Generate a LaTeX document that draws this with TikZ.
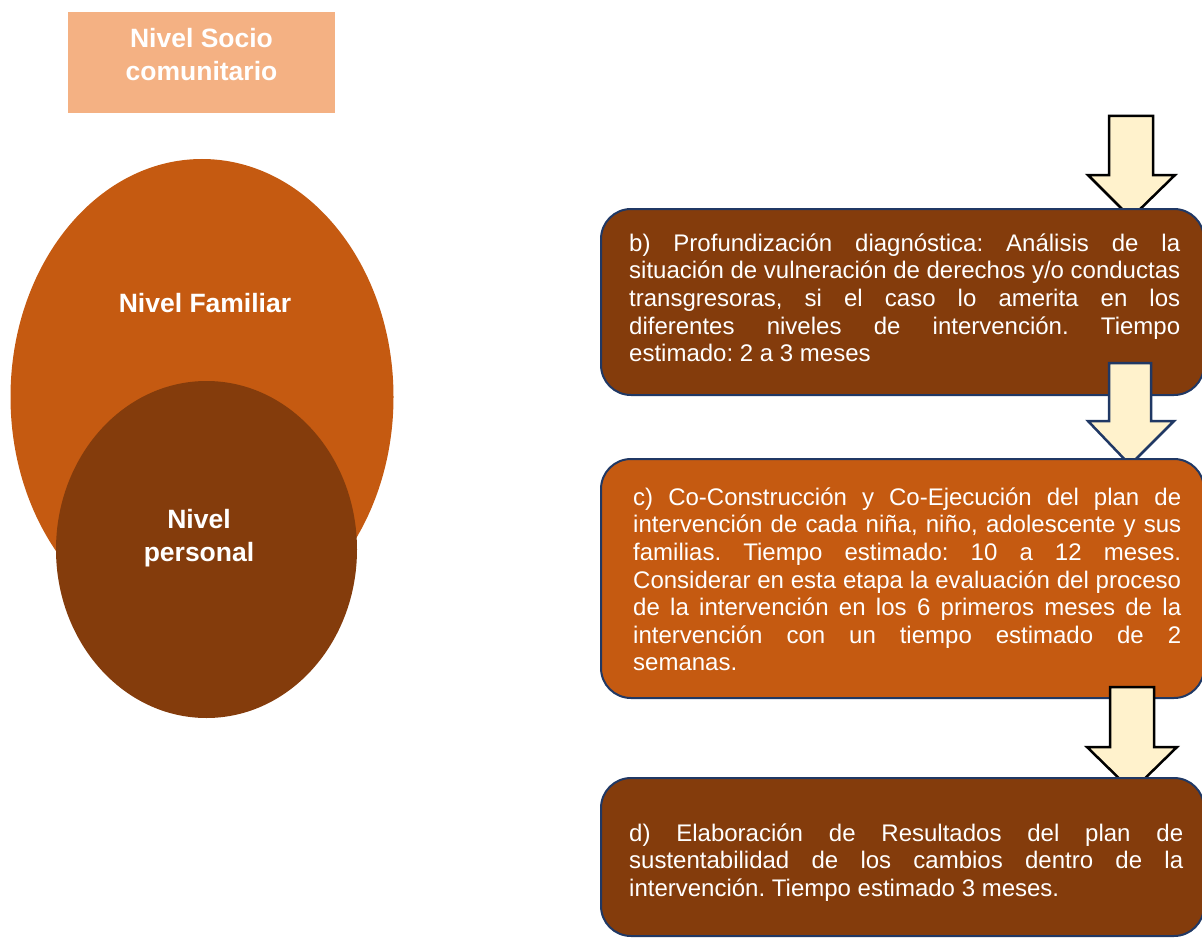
\documentclass[tikz,border=0pt]{standalone}
\usepackage{fontspec}
\setmainfont{Liberation Sans}
\usetikzlibrary{shapes.geometric}
\frenchspacing
\definecolor{cOrange}{HTML}{C55A11}
\definecolor{cBrown}{HTML}{843C0C}
\definecolor{cSalmon}{HTML}{F4B183}
\definecolor{cArrow}{HTML}{FFF2CC}
\definecolor{cNavy}{HTML}{203864}
\newcommand{\jline}[2]{\makebox[#1][s]{#2}}
\tikzset{
  stagebox/.style={draw=cNavy, line width=2pt, rounded corners=30pt, inner sep=0pt},
  stagetext/.style={text=white, inner sep=0pt, anchor=north west, align=left,
    font=\fontsize{24}{27.6}\selectfont\frenchspacing},
  blockarrow/.style={fill=cArrow, line width=2.5pt, line join=miter},
  titletext/.style={text=white, inner sep=0pt, align=center,
    font=\fontsize{26.5}{33}\selectfont\bfseries},
}
\begin{document}
\begin{tikzpicture}[x=1pt,y=-1pt]
\useasboundingbox (0,0) rectangle (1202,939);
\clip (0,0) rectangle (1202,939);

% left side
\node[fill=cSalmon, minimum width=267pt, minimum height=101pt, inner sep=0pt] (socio) at (201.5,62.5) {};
\node[titletext, anchor=north] (sociot) at (201.5,25) {\rule{0pt}{22pt}Nivel Socio\\comunitario};
\node[ellipse, fill=cOrange, minimum width=383pt, minimum height=476pt, inner sep=0pt] (fam) at (202,397) {};
\node[titletext, anchor=base] (famt) at (205,312) {Nivel Familiar};
\node[ellipse, fill=cBrown, minimum width=301pt, minimum height=337pt, inner sep=0pt] (pers) at (206.5,549.5) {};
\node[titletext, anchor=north] (perst) at (199,506) {\rule{0pt}{22pt}Nivel\\personal};

% arrow 1
\draw[blockarrow, draw=black] (1109,116) -- (1153,116) -- (1153,175) -- (1175,175) -- (1131,218)
  -- (1088,175) -- (1109,175) -- cycle;

% box b
\node[stagebox, fill=cBrown, minimum width=603pt, minimum height=186pt] (b) at (902.5,302) {};
\node[stagetext] (bt) at (629,227) {\rule{0pt}{24pt}%
\jline{551pt}{b) Profundización diagnóstica: Análisis de la}\\
\jline{551pt}{situación de vulneración de derechos y/o conductas}\\
\jline{551pt}{transgresoras, si el caso lo amerita en los}\\
\jline{551pt}{diferentes niveles de intervención. Tiempo}\\
estimado: 2 a 3 meses};

% arrow 2
\draw[blockarrow, draw=cNavy] (1109,363) -- (1151,363) -- (1151,421) -- (1174,421) -- (1130,465)
  -- (1088,421) -- (1109,421) -- cycle;

% box c
\node[stagebox, fill=cOrange, minimum width=603pt, minimum height=239pt] (c) at (902.5,578.5) {};
\node[stagetext] (ct) at (633,481) {\rule{0pt}{24pt}%
\jline{548pt}{c) Co-Construcción y Co-Ejecución del plan de}\\
\jline{548pt}{intervención de cada niña, niño, adolescente y sus}\\
\jline{548pt}{familias. Tiempo estimado: 10 a 12 meses.}\\
\jline{548pt}{Considerar en esta etapa la evaluación del proceso}\\
\jline{548pt}{de la intervención en los 6 primeros meses de la}\\
\jline{548pt}{intervención con un tiempo estimado de 2}\\
semanas.};

% arrow 3
\draw[blockarrow, draw=black] (1110,687) -- (1154,687) -- (1154,747) -- (1177,747) -- (1132,791)
  -- (1087,747) -- (1110,747) -- cycle;

% box d
\node[stagebox, fill=cBrown, minimum width=603pt, minimum height=158pt] (d) at (902.5,857) {};
\node[stagetext] (dt) at (629,817) {\rule{0pt}{24pt}%
\jline{554pt}{d) Elaboración de Resultados del plan de}\\
\jline{554pt}{sustentabilidad de los cambios dentro de la}\\
intervención. Tiempo estimado 3 meses.};
\end{tikzpicture}
\end{document}
